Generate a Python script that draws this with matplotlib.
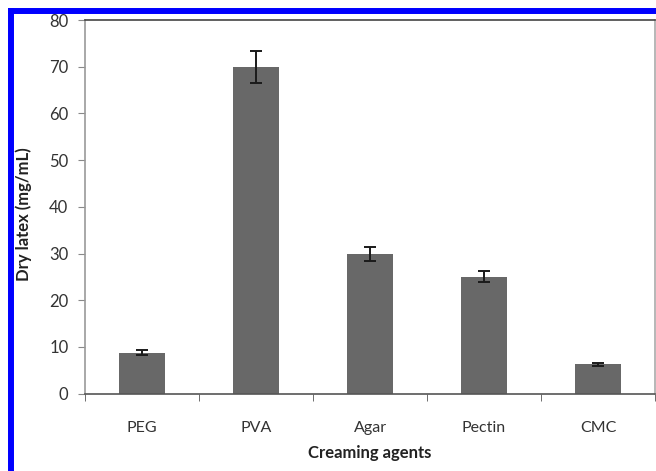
import numpy as np
import matplotlib.pyplot as plt
from matplotlib.lines import Line2D

agents = ['PEG', 'PVA', 'Agar', 'Pectin', 'CMC']
dry_latex = [8.8, 70.0, 30.0, 25.0, 6.3]
errors = [0.5, 3.4, 1.5, 1.2, 0.3]

plt.rcParams['font.family'] = ['Lato', 'DejaVu Sans']
plt.rcParams['font.size'] = 11.5

fig = plt.figure(figsize=(6.56, 4.71), dpi=100)
ax = fig.add_axes([0.1296, 0.1643, 0.8689, 0.7932])

x = np.arange(len(agents))
ax.bar(x, dry_latex, width=0.41, color='#686868', zorder=2)
ax.errorbar(x, dry_latex, yerr=errors, fmt='none', ecolor='#1a1a1a',
            elinewidth=1.4, capsize=4, capthick=1.4, zorder=3)

ax.set_xlim(-0.5, len(agents) - 0.5)
ax.set_ylim(0, 80)
ax.set_yticks(range(0, 81, 10))
ax.set_xticks(x)
ax.set_xticklabels(agents, color='#333333', fontsize=11.5)
ax.set_xticks(np.arange(-0.5, len(agents)), minor=True)
ax.tick_params(axis='x', which='major', length=0, pad=20)
ax.tick_params(axis='x', which='minor', length=5, direction='out', color='#555555')
ax.tick_params(axis='y', length=5, direction='out', color='#888888',
               labelcolor='#333333', labelsize=12, pad=7)

ax.spines['left'].set_color('#999999')
ax.spines['right'].set_color('#aaaaaa')
ax.spines['top'].set_color('#444444')
ax.spines['bottom'].set_color('#555555')
for s in ax.spines.values():
    s.set_linewidth(1.2)

ax.set_ylabel('Dry latex (mg/mL)', fontweight='bold', color='#222222', fontsize=12)
ax.yaxis.set_label_coords(-0.093, 0.48)
ax.set_xlabel('Creaming agents', fontweight='bold', color='#222222', fontsize=12)
ax.xaxis.set_label_coords(0.5, -0.138)

# blue frame on the top and left edges
fig.add_artist(Line2D([10.5 / 656, 10.5 / 656], [0, 1 - 10.5 / 471],
                      transform=fig.transFigure, color='#0000ff', lw=4.3,
                      solid_capstyle='projecting'))
fig.add_artist(Line2D([10.5 / 656, 1], [1 - 10.5 / 471, 1 - 10.5 / 471],
                      transform=fig.transFigure, color='#0000ff', lw=4.3,
                      solid_capstyle='projecting'))

fig.savefig('out.png', dpi=100)
